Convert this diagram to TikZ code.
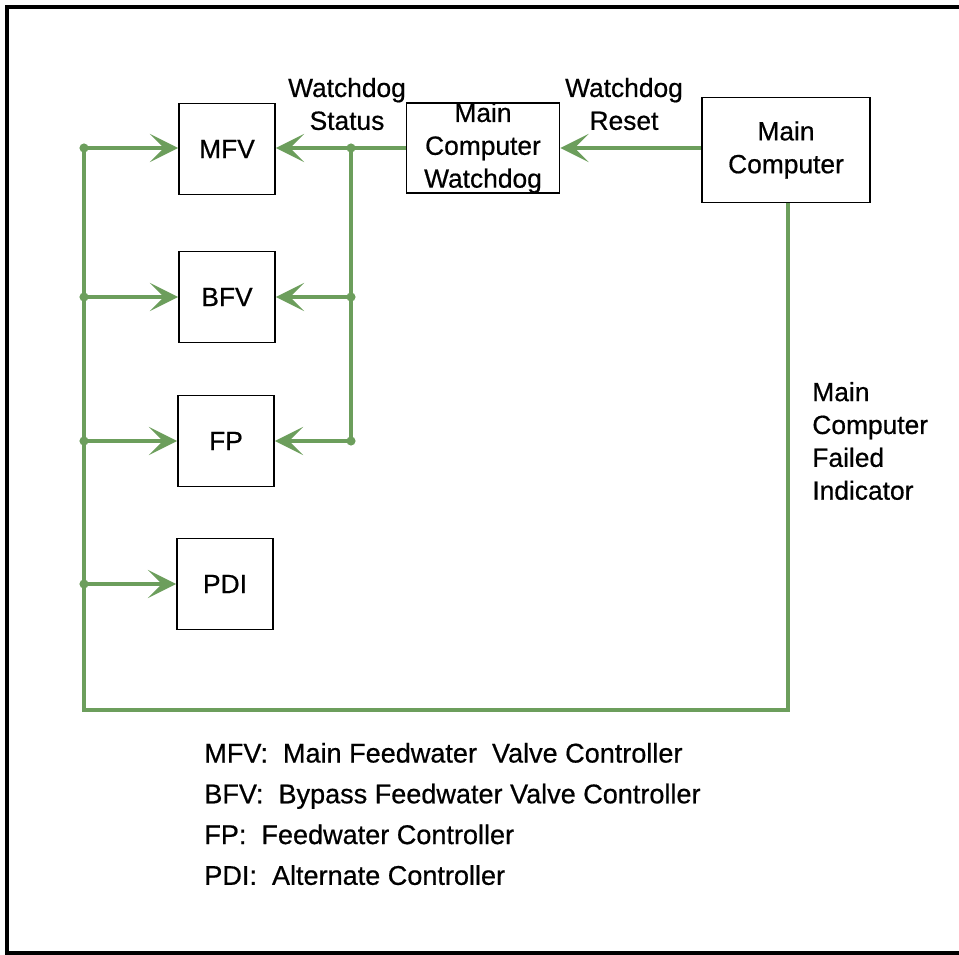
\documentclass[tikz,border=0pt]{standalone}
\usepackage{fontspec}
\setmainfont{Liberation Sans}[FakeBold=0.6]
\usetikzlibrary{arrows.meta, positioning, calc}
\definecolor{wire}{RGB}{108,158,92}

\begin{document}
\begin{tikzpicture}[
    x=0.02cm, y=-0.02cm,
    unit/.style={draw=black, line width=1.1pt, inner sep=0pt, align=center,
        minimum width=1.92cm, minimum height=1.82cm, font=\fontsize{15}{18.7}\selectfont},
    label/.style={align=center, inner sep=0pt, font=\fontsize{15}{18.7}\selectfont},
    signal/.style={wire, line width=2.4pt},
    feed/.style={signal, -{Stealth[length=16pt, width=16pt, inset=8pt]}},
    joint/.style={wire}
]

\useasboundingbox (0,0) rectangle (959,955);

% Marco
\draw[line width=2.4pt] (7,7) rectangle (975,953);

% Controladores
\node[unit] (mfv) at (227,149) {MFV};
\node[unit] (bfv) at (227,297) {BFV};
\node[unit] (fp)  at (226,441) {FP};
\node[unit] (pdi) at (225,584) {PDI};

% Computadora y watchdog
\node[unit, minimum width=3.06cm, minimum height=1.8cm] (mcw) at (483,148) {Main\\Computer\\Watchdog};
\node[unit, minimum width=3.36cm, minimum height=2.1cm] (mc) at (786,150) {Main\\Computer};

% Etiquetas
\node[label] (status) at (347,104) {Watchdog\\Status};
\node[label] (reset) at (624,104) {Watchdog\\Reset};
\node[label, align=left, anchor=west] (failed) at (812,441) {Main\\Computer\\Failed\\Indicator};

% Puntos de union
\coordinate (r1) at (351,148);
\coordinate (r2) at (351,297);
\coordinate (r3) at (351,441);
\coordinate (l1) at (84,148);
\coordinate (l2) at (84,297);
\coordinate (l3) at (84,441);
\coordinate (l4) at (84,584);
\coordinate (l5) at (84,710);
\coordinate (m5) at (788,710);

% Watchdog status
\draw[feed] (mc.west |- mcw.east) -- (mcw.east);
\draw[signal] (mcw.west) -- (r1) -- (r3);
\draw[feed] (r1) -- (mfv.east |- r1);
\draw[feed] (r2) -- (bfv.east |- r2);
\draw[feed] (r3) -- (fp.east |- r3);

% Main computer failed
\draw[signal] (mc.south -| m5) -- (m5) -- (l5) -- (l1);
\foreach \j/\n in {l1/mfv, l2/bfv, l3/fp, l4/pdi}
    \draw[feed] (\j) -- (\n.west |- \j);
\foreach \j in {r1, r2, r3, l1, l2, l3, l4}
    \fill[joint] (\j) circle (2.6pt);

% Leyenda
\node[align=left, anchor=west, inner sep=0pt, font=\fontsize{15.4}{23.2}\selectfont] (legend) at (204,814) {
    MFV:\ \ Main Feedwater\ \ Valve Controller\\
    BFV:\ \ Bypass Feedwater Valve Controller\\
    FP:\ \ Feedwater Controller\\
    PDI:\ \ Alternate Controller
};

\end{tikzpicture}
\end{document}
